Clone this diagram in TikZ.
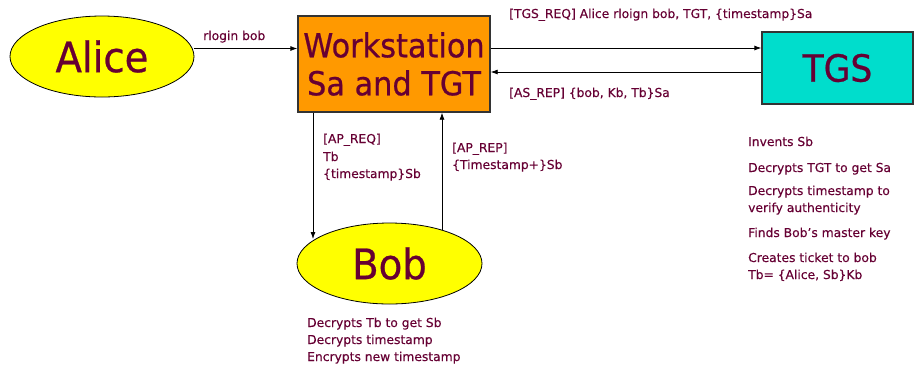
\documentclass[tikz,border=0pt]{standalone}
\usepackage{fontspec}
\setmainfont{DejaVu Sans}[FakeStretch=0.92,FakeBold=0.6]
\newfontfamily\smallf{DejaVu Sans}[FakeBold=0.3]
\usetikzlibrary{shapes.geometric,arrows.meta}
\definecolor{txt}{HTML}{660033}
\definecolor{orng}{HTML}{FF9900}
\definecolor{yel}{HTML}{FFFF00}
\definecolor{cyn}{HTML}{00DDCC}
\definecolor{bord}{HTML}{333333}
\tikzset{
  person/.style={ellipse,draw=black,line width=0.8pt,fill=yel,inner sep=0pt,text=txt},
  server/.style={rectangle,draw=bord,line width=1.3pt,inner sep=0pt,text=txt,align=center},
  arr/.style={-{Latex[length=7pt,width=5pt]},line width=0.8pt,draw=black},
  lbl/.style={text=txt,font=\smallf\fontsize{12.3}{14}\selectfont,anchor=base west,inner sep=0pt}
}
\begin{document}
\begin{tikzpicture}[x=1pt,y=-1pt]
\useasboundingbox (0,0) rectangle (915,368);
\node[person,minimum width=184pt,minimum height=81pt,font=\fontsize{42}{44}\selectfont] (alice) at (102,56.5) {Alice};
\node[server,fill=orng,minimum width=192pt,minimum height=96pt,font=\fontsize{33}{38}\selectfont] (ws) at (394,64) {Workstation\\Sa and TGT};
\node[server,fill=cyn,minimum width=151pt,minimum height=72pt,font=\fontsize{37.5}{40}\selectfont] (tgs) at (837.5,68) {TGS};
\node[person,minimum width=185pt,minimum height=81pt,font=\fontsize{42}{44}\selectfont] (bob) at (389.5,263.5) {Bob};

\coordinate (a1) at ([yshift=8pt]alice.east);
\draw[arr] (a1) -- (a1 -| ws.west);
\coordinate (t1) at ([yshift=16pt]ws.east);
\draw[arr] (t1) -- (t1 -| tgs.west);
\coordinate (t2) at ([yshift=-8pt]ws.east);
\draw[arr] (t2 -| tgs.west) -- (t2);
\coordinate (b1) at (313,239);
\coordinate (v1) at (b1 |- ws.south);
\draw[arr] (v1) -- (b1);
\coordinate (b2) at (442,230);
\draw[arr] (b2) -- (b2 |- ws.south);

\node[lbl] (l1) at (203,40) {rlogin bob};
\node[lbl] (l2) at (509,18) {[TGS\_REQ] Alice rloign bob, TGT, \{timestamp\}Sa};
\node[lbl] (l3) at (509,97) {[AS\_REP] \{bob, Kb, Tb\}Sa};
\node[lbl] (l4) at (323,143) {[AP\_REQ]};
\node[lbl] (l5) at (323,161) {Tb};
\node[lbl] (l6) at (323,178) {\{timestamp\}Sb};
\node[lbl] (l7) at (452,152) {[AP\_REP]};
\node[lbl] (l8) at (452,169) {\{Timestamp+\}Sb};
\node[lbl] (n1) at (307,327) {Decrypts Tb to get Sb};
\node[lbl] (n2) at (307,344) {Decrypts timestamp};
\node[lbl] (n3) at (307,361) {Encrypts new timestamp};
\node[lbl] (g1) at (748,146) {Invents Sb};
\node[lbl] (g2) at (748,172) {Decrypts TGT to get Sa};
\node[lbl] (g3) at (748,195) {Decrypts timestamp to};
\node[lbl] (g4) at (748,212) {verify authenticity};
\node[lbl] (g5) at (748,237) {Finds Bob’s master key};
\node[lbl] (g6) at (748,262) {Creates ticket to bob};
\node[lbl] (g7) at (748,279) {Tb= \{Alice, Sb\}Kb};
\end{tikzpicture}
\end{document}
